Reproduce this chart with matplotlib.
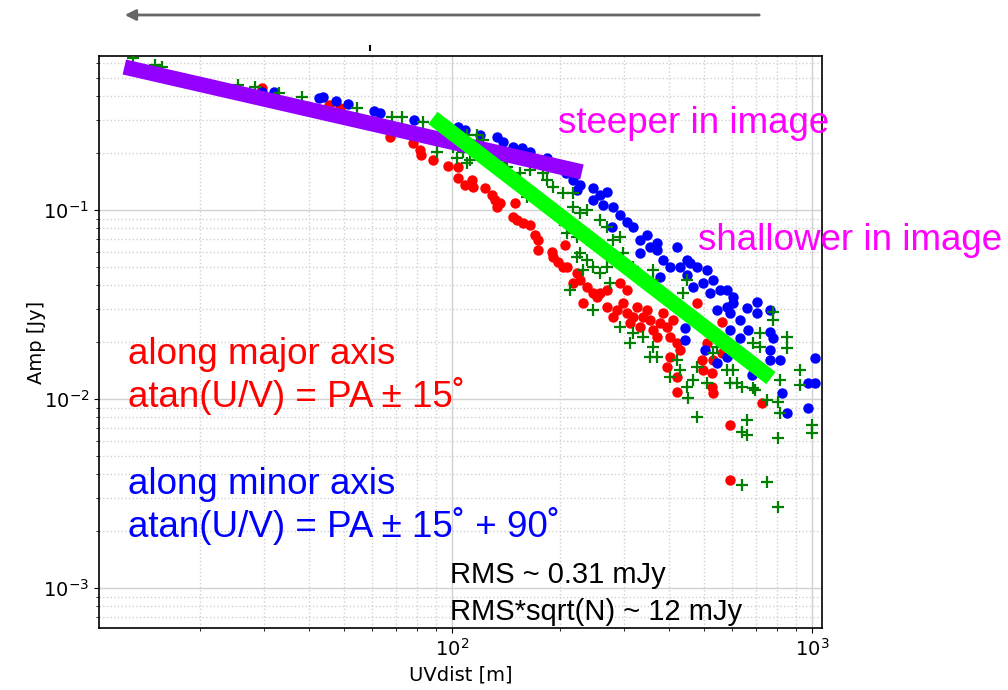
import matplotlib
matplotlib.use("Agg")
import matplotlib.pyplot as plt
from matplotlib.lines import Line2D

# --- data ---
# points along the major axis (red)
major_uv = [29.7, 45.5, 48.9, 67.3, 77.9, 81.5, 82.0, 88.6, 97.5, 103.9, 103.9, 108.7,
            113.6, 114.4, 123.5, 129.2, 131.6, 133.4, 135.9, 149.6, 147.7, 151.6, 157.5,
            164.7, 170.1, 173.4, 173.4, 189.6, 190.8, 197.0, 203.4, 206.0, 222.5, 226.8,
            237.1, 246.4, 257.7, 269.5, 216.8, 292.9, 306.3, 208.7, 231.2, 252.8, 269.5,
            280.1, 287.3, 298.5, 306.3, 312.2, 318.3, 326.5, 332.8, 339.3, 348.1, 354.8,
            361.7, 371.1, 378.3, 385.6, 395.6, 403.3, 411.1, 421.7, 429.9, 403.3, 395.6,
            421.7, 421.7, 498.1, 527.6, 494.9, 530.9, 562.3, 527.6, 530.9, 510.9, 479.3,
            562.3, 591.8, 591.8, 726.3]
major_amp = [0.442, 0.359, 0.347, 0.243, 0.226, 0.208, 0.195, 0.184, 0.171, 0.169, 0.148,
             0.136, 0.144, 0.132, 0.131, 0.120, 0.113, 0.104, 0.109, 0.109, 0.0918, 0.0885,
             0.0853, 0.0833, 0.0737, 0.0694, 0.0614, 0.0599, 0.0564, 0.0531, 0.0500, 0.0653,
             0.0464, 0.0426, 0.0391, 0.0364, 0.0364, 0.0377, 0.0411, 0.0411, 0.0377, 0.0500,
             0.0322, 0.0347, 0.0307, 0.0272, 0.0296, 0.0322, 0.0285, 0.0252, 0.0272, 0.0307,
             0.0240, 0.0272, 0.0296, 0.0262, 0.0232, 0.0213, 0.0252, 0.0285, 0.0240, 0.0213,
             0.0262, 0.0198, 0.0182, 0.0167, 0.0148, 0.0131, 0.0109, 0.0142, 0.0137, 0.0161,
             0.0161, 0.0175, 0.0116, 0.0108, 0.0198, 0.0322, 0.0256, 0.00729, 0.00373,
             0.00952]

# points along the minor axis (blue)
minor_uv = [29.7, 32.0, 42.7, 43.8, 47.6, 51.4, 60.7, 63.1, 78.4, 103.9, 108.7, 119.6,
            133.4, 138.6, 147.7, 156.5, 164.7, 183.6, 216.8, 226.8, 222.5, 246.4, 257.7,
            269.5, 246.4, 262.7, 280.1, 292.9, 306.3, 318.3, 278.3, 348.1, 354.8, 371.1,
            332.8, 421.7, 385.6, 403.3, 449.6, 479.3, 510.9, 467.2, 530.9, 555.2, 603.3,
            332.8, 371.1, 429.9, 458.3, 378.3, 449.6, 498.1, 520.9, 580.7, 580.7, 544.7,
            591.8, 631.0, 603.3, 659.8, 703.4, 703.4, 764.3, 764.3, 779.1, 764.3, 764.3,
            814.9, 664.1, 631.0, 591.8, 504.4, 544.7, 443.9, 443.9, 681.3, 580.7, 825.4,
            852.1, 974.7, 1019.4, 974.7, 1019.4, 199.5, 207.3]
minor_amp = [0.421, 0.421, 0.391, 0.396, 0.377, 0.364, 0.334, 0.326, 0.299, 0.275, 0.265,
             0.249, 0.243, 0.229, 0.215, 0.213, 0.203, 0.188, 0.144, 0.136, 0.128, 0.131,
             0.120, 0.124, 0.113, 0.106, 0.104, 0.0941, 0.0864, 0.0813, 0.0813, 0.0737,
             0.0637, 0.0669, 0.0694, 0.0637, 0.0544, 0.0500, 0.0544, 0.0500, 0.0481, 0.0391,
             0.0426, 0.0377, 0.0347, 0.0592, 0.0614, 0.0500, 0.0524, 0.0442, 0.0453, 0.0411,
             0.0364, 0.0377, 0.0307, 0.0296, 0.0285, 0.0262, 0.0322, 0.0303, 0.0285, 0.0326,
             0.0296, 0.0226, 0.0210, 0.0182, 0.0161, 0.0161, 0.0232, 0.0210, 0.0232, 0.0182,
             0.0155, 0.0237, 0.0205, 0.0134, 0.0167, 0.0108, 0.00843, 0.00896, 0.0165,
             0.0122, 0.0122, 0.173, 0.157]

# all visibilities (green +)
all_uv = [13.0, 15.0, 15.7, 25.4, 28.4, 33.1, 38.3, 54.5, 68.1, 72.6, 83.1, 90.9, 103.2,
          110.1, 110.1, 117.3, 121.9, 100.6, 107.3, 112.2, 125.1, 130.0, 135.9, 142.2,
          144.9, 154.5, 164.7, 179.0, 183.6, 190.8, 203.4, 216.8, 161.6, 172.2, 183.6,
          190.8, 199.5, 216.8, 226.8, 237.1, 257.7, 269.5, 208.7, 222.5, 237.1, 252.8,
          269.5, 280.1, 292.9, 226.8, 237.1, 246.4, 269.5, 287.3, 298.5, 318.3, 361.7,
          361.7, 449.6, 438.3, 212.7, 222.5, 231.2, 246.4, 257.7, 274.7, 292.9, 312.2,
          318.3, 339.3, 354.8, 371.1, 361.7, 403.3, 421.7, 429.9, 449.6, 452.5, 467.2,
          479.3, 479.3, 510.9, 530.9, 544.7, 580.7, 591.8, 603.3, 619.0, 639.1, 685.7,
          694.5, 659.8, 639.1, 659.8, 717.1, 717.1, 685.7, 749.9, 779.1, 779.1, 814.9,
          805.0, 814.9, 805.0, 852.1, 852.1, 926.2, 926.2, 1000.0, 1000.0, 639.1, 749.9,
          805.0]
all_amp = [0.637, 0.585, 0.571, 0.458, 0.448, 0.416, 0.396, 0.347, 0.310, 0.310, 0.292,
           0.203, 0.188, 0.177, 0.249, 0.249, 0.235, 0.215, 0.203, 0.184, 0.203, 0.191,
           0.177, 0.169, 0.150, 0.157, 0.163, 0.157, 0.144, 0.132, 0.123, 0.123, 0.117,
           0.113, 0.104, 0.0964, 0.0885, 0.104, 0.0964, 0.100, 0.0885, 0.0813, 0.0756,
           0.0720, 0.0694, 0.0637, 0.0614, 0.0694, 0.0720, 0.0592, 0.0544, 0.0500, 0.0500,
           0.0544, 0.0592, 0.0500, 0.0481, 0.0426, 0.0426, 0.0364, 0.0377, 0.0564, 0.0481,
           0.0296, 0.0464, 0.0411, 0.0240, 0.0198, 0.0224, 0.0213, 0.0167, 0.0167, 0.0188,
           0.0131, 0.0161, 0.0142, 0.0116, 0.0101, 0.0126, 0.0148, 0.00803, 0.0122, 0.0175,
           0.0188, 0.0142, 0.0122, 0.0142, 0.0122, 0.0116, 0.0114, 0.0112, 0.00774,
           0.00669, 0.00645, 0.0188, 0.0224, 0.0198, 0.00988, 0.0262, 0.0289, 0.0126,
           0.00964, 0.00843, 0.00622, 0.0213, 0.0186, 0.0142, 0.0119, 0.00729, 0.00661,
           0.00351, 0.00364, 0.00268]

# hand-drawn slope guides
shallow_uv = [12.3, 229.6]
shallow_amp = [0.571, 0.159]
steep_uv = [88.5, 769.0]
steep_amp = [0.307, 0.0129]

W, H = 1008, 690
fig = plt.figure(figsize=(W / 100, H / 100), dpi=100)
ax = fig.add_axes([99 / W, 62 / H, 723 / W, 572 / H])

ax.plot(major_uv, major_amp, 'o', color='red', ms=7.5, mew=0, zorder=3)
ax.plot(minor_uv, minor_amp, 'o', color='blue', ms=7.5, mew=0, zorder=3)
ax.plot(all_uv, all_amp, '+', color='green', ms=8, mew=1.6, zorder=4)

ax.plot(shallow_uv, shallow_amp, '-', color='#9400ff', lw=11, solid_capstyle='butt', zorder=5)
ax.plot(steep_uv, steep_amp, '-', color='#00ff00', lw=11, solid_capstyle='butt', zorder=6)

ax.set_xscale('log')
ax.set_yscale('log')
ax.set_xlim(10.46, 1066)
ax.set_ylim(6.14e-4, 0.653)
ax.grid(True, which='major', color='0.82', lw=1)
ax.grid(True, which='minor', color='0.82', ls=':', lw=1)
ax.set_axisbelow(True)
ax.tick_params(labelsize=14)
for s in ax.spines.values():
    s.set_linewidth(1.2)
ax.set_xlabel('UVdist [m]', fontsize=14)
ax.set_ylabel('Amp [Jy]', fontsize=14, labelpad=-2)

# annotations
fam = ['Liberation Sans', 'DejaVu Sans']
def ftext(px, py, s, **kw):
    fig.text(px / W, 1 - py / H, s, family=fam, va='baseline', ha='left', **kw)

ftext(128, 364, 'along major axis', color='red', fontsize=26.5)
ftext(128, 407, 'atan(U/V) = PA \u00b1 15\u02da', color='red', fontsize=26.5)
ftext(128, 494, 'along minor axis', color='blue', fontsize=26.5)
ftext(128, 537, 'atan(U/V) = PA \u00b1 15\u02da + 90\u02da', color='blue', fontsize=26.5)
ftext(558, 133, 'steeper in image', color='#ff00ff', fontsize=26.5)
ftext(698, 250, 'shallower in image', color='#ff00ff', fontsize=26.5)
ftext(450, 583, 'RMS ~ 0.31 mJy', color='black', fontsize=21)
ftext(450, 620, 'RMS*sqrt(N) ~ 12 mJy', color='black', fontsize=21)

# arrow above the plot
ax.annotate('', xy=(122 / W, 1 - 15 / H), xytext=(762 / W, 1 - 15 / H),
            xycoords='figure fraction', textcoords='figure fraction',
            arrowprops=dict(arrowstyle='-|>', color='0.4', lw=2, mutation_scale=16))
fig.add_artist(Line2D([370 / W, 370 / W], [1 - 46 / H, 1 - 50 / H], color='black', lw=1.5))

fig.savefig('out.png', dpi=100)
